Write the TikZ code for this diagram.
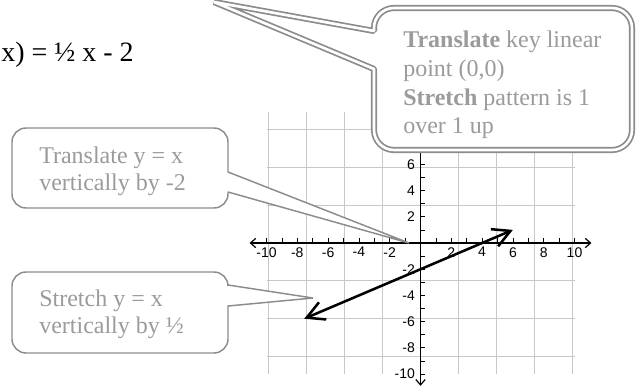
\documentclass[tikz,border=0pt]{standalone}
\usepackage{fontspec}
\setmainfont{Liberation Serif}
\newfontfamily\axisfont{Liberation Sans}
\usetikzlibrary{arrows.meta}
\definecolor{gridgray}{RGB}{200,200,200}
\definecolor{calloutline}{RGB}{140,140,140}
\definecolor{callouttext}{RGB}{155,155,155}
\begin{document}
\begin{tikzpicture}[x=0.75pt,y=0.75pt,
    gridline/.style={gridgray,line width=0.75pt},
    axisline/.style={line width=0.9pt,{Straight Barb[length=4pt,width=7pt]}-{Straight Barb[length=4pt,width=7pt]}},
    tickmark/.style={line width=0.6pt},
    numlabel/.style={inner sep=0pt,font=\axisfont\fontsize{10.5}{12}\selectfont},
    fline/.style={line width=1.9pt,{Straight Barb[length=13pt,width=14pt]}-{Straight Barb[length=13pt,width=14pt]}},
    callout/.style={draw=calloutline,fill=white,line width=1.1pt,line join=bevel},
    bigcallout/.style={draw=calloutline,fill=white,line width=1.3pt,double=white,double distance=2pt,line join=bevel},
    callouttxt/.style={inner sep=0pt,align=left,text=callouttext,font=\fontsize{18}{20.6}\selectfont}]
    \useasboundingbox (0,0) rectangle (642,386);

    % Phương trình
    \node[anchor=base west,inner sep=0pt,font=\fontsize{21}{24}\selectfont] (eqn) at (1,324) {x) = ½ x - 2};

    % Lưới và trục tọa độ
    \begin{scope}[shift={(420.5,143)},x=11.55pt,y=9.825pt]
    \draw[gridline] (-10,-10) grid (10,10);
    \draw[axisline] (-11.1,0) -- (11.1,0);
    \draw[axisline] (0,-10.9) -- (0,11);
    \foreach \t in {-10,...,-1,1,2,...,10} {
        \draw[tickmark] (\t,0) -- (\t,0.35);
        \draw[tickmark] (0,\t) -- (0.3,\t);
    }
    % Đánh số trên trục x
    \foreach \t in {-10,-8,...,-2,2,4,...,10}
    \node[numlabel,below=3pt] (xl\t) at (\t,0) {\t};
    % Đánh số trên trục y
    \foreach \t in {-10,-8,...,-2,2,4,6}
    \node[numlabel,left=4pt] (yl\t) at (0,\t) {\t};
    % Đường thẳng y = x/2 - 2
    \coordinate (lstart) at (-7.55,-5.78);
    \coordinate (lend) at (6,1);
    \draw[fline] (lstart) -- (lend);
    \coordinate (tipA) at (-0.75,0);
    \coordinate (tipB) at (-6.98,-4.2);
    \end{scope}

    % Chú thích tịnh tiến
    \draw[callout] (12,244) arc[start angle=180,end angle=90,radius=14] -- (214,258)
        arc[start angle=90,end angle=0,radius=14] -- (228,214) -- (tipA) -- (228,194) -- (228,192)
        arc[start angle=0,end angle=-90,radius=14] -- (26,178)
        arc[start angle=270,end angle=180,radius=14] -- cycle;
    \node[callouttxt,anchor=west] (transtxt) at (39,215) {Translate y = x\\vertically by -2};

    % Chú thích co giãn
    \draw[callout] (12,100) arc[start angle=180,end angle=90,radius=14] -- (214,114)
        arc[start angle=90,end angle=0,radius=14] -- (228,101) -- (tipB) -- (228,80) -- (228,47)
        arc[start angle=0,end angle=-90,radius=14] -- (26,33)
        arc[start angle=270,end angle=180,radius=14] -- cycle;
    \node[callouttxt,anchor=west] (stretchtxt) at (39,72) {Stretch y = x\\vertically by ½};

    % Chú thích lớn
    \coordinate (tipC) at (214,384);
    \draw[bigcallout] (tipC) -- (374,355) -- (374,358)
        arc[start angle=180,end angle=90,radius=20] -- (612,378)
        arc[start angle=90,end angle=0,radius=20] -- (632,256)
        arc[start angle=0,end angle=-90,radius=20] -- (394,236)
        arc[start angle=270,end angle=180,radius=20] -- (374,317) -- cycle;
    \node[callouttxt,anchor=west,font=\fontsize{18}{21.4}\selectfont] (keytxt) at (403,301)
        {\textbf{Translate} key linear\\point (0,0)\\\textbf{Stretch} pattern is 1\\over 1 up};
\end{tikzpicture}
\end{document}
